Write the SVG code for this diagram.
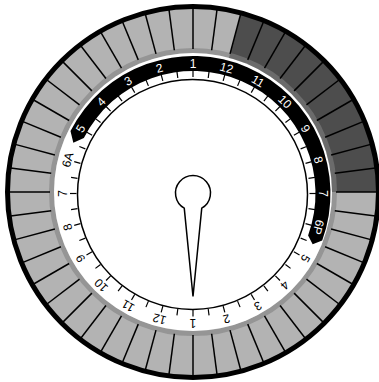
<svg xmlns="http://www.w3.org/2000/svg" xmlns:xlink="http://www.w3.org/1999/xlink" width="379" height="382" viewBox="0 0 379 382">
<style>
.div{stroke:#000;stroke-width:1.5}
.tick{stroke:#000;stroke-width:1.2}
.num{font-family:"Liberation Sans",Arial,sans-serif;font-size:12px;text-anchor:middle}
.w{fill:#fff}
.b{fill:#000}
</style>
<defs>
<line id="dv" class="div" x1="193" y1="8" x2="193" y2="49"/>
<line id="tk" class="tick" x1="193" y1="70.5" x2="193" y2="77"/>
</defs>
<rect width="379" height="382" fill="#fff"/>
<g id="segments">
<circle cx="193" cy="192" r="184" fill="#b3b3b3"/>
<path d="M193,192 L240.62,14.27 A184,184 0 0 1 377,192 Z" fill="#4d4d4d"/>
<circle cx="193" cy="192" r="141.5" fill="none" stroke="#808080" stroke-opacity="0.6" stroke-width="5"/>
<circle cx="193" cy="192" r="139" fill="#fff"/>
<g id="dividers">
<use xlink:href="#dv" transform="rotate(0 193 192)"/><use xlink:href="#dv" transform="rotate(7.5 193 192)"/><use xlink:href="#dv" transform="rotate(15 193 192)"/><use xlink:href="#dv" transform="rotate(22.5 193 192)"/><use xlink:href="#dv" transform="rotate(30 193 192)"/><use xlink:href="#dv" transform="rotate(37.5 193 192)"/><use xlink:href="#dv" transform="rotate(45 193 192)"/><use xlink:href="#dv" transform="rotate(52.5 193 192)"/><use xlink:href="#dv" transform="rotate(60 193 192)"/><use xlink:href="#dv" transform="rotate(67.5 193 192)"/><use xlink:href="#dv" transform="rotate(75 193 192)"/><use xlink:href="#dv" transform="rotate(82.5 193 192)"/><use xlink:href="#dv" transform="rotate(90 193 192)"/><use xlink:href="#dv" transform="rotate(97.5 193 192)"/><use xlink:href="#dv" transform="rotate(105 193 192)"/><use xlink:href="#dv" transform="rotate(112.5 193 192)"/><use xlink:href="#dv" transform="rotate(120 193 192)"/><use xlink:href="#dv" transform="rotate(127.5 193 192)"/><use xlink:href="#dv" transform="rotate(135 193 192)"/><use xlink:href="#dv" transform="rotate(142.5 193 192)"/><use xlink:href="#dv" transform="rotate(150 193 192)"/><use xlink:href="#dv" transform="rotate(157.5 193 192)"/><use xlink:href="#dv" transform="rotate(165 193 192)"/><use xlink:href="#dv" transform="rotate(172.5 193 192)"/><use xlink:href="#dv" transform="rotate(180 193 192)"/><use xlink:href="#dv" transform="rotate(187.5 193 192)"/><use xlink:href="#dv" transform="rotate(195 193 192)"/><use xlink:href="#dv" transform="rotate(202.5 193 192)"/><use xlink:href="#dv" transform="rotate(210 193 192)"/><use xlink:href="#dv" transform="rotate(217.5 193 192)"/><use xlink:href="#dv" transform="rotate(225 193 192)"/><use xlink:href="#dv" transform="rotate(232.5 193 192)"/><use xlink:href="#dv" transform="rotate(240 193 192)"/><use xlink:href="#dv" transform="rotate(247.5 193 192)"/><use xlink:href="#dv" transform="rotate(255 193 192)"/><use xlink:href="#dv" transform="rotate(262.5 193 192)"/><use xlink:href="#dv" transform="rotate(270 193 192)"/><use xlink:href="#dv" transform="rotate(277.5 193 192)"/><use xlink:href="#dv" transform="rotate(285 193 192)"/><use xlink:href="#dv" transform="rotate(292.5 193 192)"/><use xlink:href="#dv" transform="rotate(300 193 192)"/><use xlink:href="#dv" transform="rotate(307.5 193 192)"/><use xlink:href="#dv" transform="rotate(315 193 192)"/><use xlink:href="#dv" transform="rotate(322.5 193 192)"/><use xlink:href="#dv" transform="rotate(330 193 192)"/><use xlink:href="#dv" transform="rotate(337.5 193 192)"/><use xlink:href="#dv" transform="rotate(345 193 192)"/><use xlink:href="#dv" transform="rotate(352.5 193 192)"/>
</g>
<circle id="rim" cx="193" cy="192" r="185.5" fill="none" stroke="#000" stroke-width="5"/>
</g>
<g id="face">
<circle cx="192.5" cy="194.5" r="115" fill="#fff" stroke="#000" stroke-width="1.5"/>
</g>
<g id="night-band">
<path d="M70.49,131.08 A137.5,137.5 0 0 1 322.21,240.53 L312.67,244.29 L308.11,235.4 A122.5,122.5 0 0 0 83.85,137.89 L73.33,142.71 Z" fill="#000"/>
</g>
<g id="ticks">
<use xlink:href="#tk" transform="rotate(0 193 193.5)"/><use xlink:href="#tk" transform="rotate(7.5 193 193.5)"/><use xlink:href="#tk" transform="rotate(15 193 193.5)"/><use xlink:href="#tk" transform="rotate(22.5 193 193.5)"/><use xlink:href="#tk" transform="rotate(30 193 193.5)"/><use xlink:href="#tk" transform="rotate(37.5 193 193.5)"/><use xlink:href="#tk" transform="rotate(45 193 193.5)"/><use xlink:href="#tk" transform="rotate(52.5 193 193.5)"/><use xlink:href="#tk" transform="rotate(60 193 193.5)"/><use xlink:href="#tk" transform="rotate(67.5 193 193.5)"/><use xlink:href="#tk" transform="rotate(75 193 193.5)"/><use xlink:href="#tk" transform="rotate(82.5 193 193.5)"/><use xlink:href="#tk" transform="rotate(90 193 193.5)"/><use xlink:href="#tk" transform="rotate(97.5 193 193.5)"/><use xlink:href="#tk" transform="rotate(105 193 193.5)"/><use xlink:href="#tk" transform="rotate(112.5 193 193.5)"/><use xlink:href="#tk" transform="rotate(120 193 193.5)"/><use xlink:href="#tk" transform="rotate(127.5 193 193.5)"/><use xlink:href="#tk" transform="rotate(135 193 193.5)"/><use xlink:href="#tk" transform="rotate(142.5 193 193.5)"/><use xlink:href="#tk" transform="rotate(150 193 193.5)"/><use xlink:href="#tk" transform="rotate(157.5 193 193.5)"/><use xlink:href="#tk" transform="rotate(165 193 193.5)"/><use xlink:href="#tk" transform="rotate(172.5 193 193.5)"/><use xlink:href="#tk" transform="rotate(180 193 193.5)"/><use xlink:href="#tk" transform="rotate(187.5 193 193.5)"/><use xlink:href="#tk" transform="rotate(195 193 193.5)"/><use xlink:href="#tk" transform="rotate(202.5 193 193.5)"/><use xlink:href="#tk" transform="rotate(210 193 193.5)"/><use xlink:href="#tk" transform="rotate(217.5 193 193.5)"/><use xlink:href="#tk" transform="rotate(225 193 193.5)"/><use xlink:href="#tk" transform="rotate(232.5 193 193.5)"/><use xlink:href="#tk" transform="rotate(240 193 193.5)"/><use xlink:href="#tk" transform="rotate(247.5 193 193.5)"/><use xlink:href="#tk" transform="rotate(255 193 193.5)"/><use xlink:href="#tk" transform="rotate(262.5 193 193.5)"/><use xlink:href="#tk" transform="rotate(270 193 193.5)"/><use xlink:href="#tk" transform="rotate(277.5 193 193.5)"/><use xlink:href="#tk" transform="rotate(285 193 193.5)"/><use xlink:href="#tk" transform="rotate(292.5 193 193.5)"/><use xlink:href="#tk" transform="rotate(300 193 193.5)"/><use xlink:href="#tk" transform="rotate(307.5 193 193.5)"/><use xlink:href="#tk" transform="rotate(315 193 193.5)"/><use xlink:href="#tk" transform="rotate(322.5 193 193.5)"/><use xlink:href="#tk" transform="rotate(330 193 193.5)"/><use xlink:href="#tk" transform="rotate(337.5 193 193.5)"/><use xlink:href="#tk" transform="rotate(345 193 193.5)"/><use xlink:href="#tk" transform="rotate(352.5 193 193.5)"/>
</g>
<g id="numbers">
<text class="num w" x="193" y="67.8" transform="rotate(0 193 193.5)">1</text>
<text class="num w" x="193" y="67.8" transform="rotate(15 193 193.5)">12</text>
<text class="num w" x="193" y="67.8" transform="rotate(30 193 193.5)">11</text>
<text class="num w" x="193" y="67.8" transform="rotate(45 193 193.5)">10</text>
<text class="num w" x="193" y="67.8" transform="rotate(60 193 193.5)">9</text>
<text class="num w" x="193" y="67.8" transform="rotate(75 193 193.5)">8</text>
<text class="num w" x="193" y="67.8" transform="rotate(90 193 193.5)">7</text>
<text class="num w" x="193" y="67.8" transform="rotate(105 193 193.5)">6P</text>
<text class="num b" x="193" y="67.8" transform="rotate(120 193 193.5)">5</text>
<text class="num b" x="193" y="67.8" transform="rotate(135 193 193.5)">4</text>
<text class="num b" x="193" y="67.8" transform="rotate(150 193 193.5)">3</text>
<text class="num b" x="193" y="67.8" transform="rotate(165 193 193.5)">2</text>
<text class="num b" x="193" y="67.8" transform="rotate(180 193 193.5)">1</text>
<text class="num b" x="193" y="67.8" transform="rotate(195 193 193.5)">12</text>
<text class="num b" x="193" y="67.8" transform="rotate(210 193 193.5)">11</text>
<text class="num b" x="193" y="67.8" transform="rotate(225 193 193.5)">10</text>
<text class="num b" x="193" y="67.8" transform="rotate(240 193 193.5)">9</text>
<text class="num b" x="193" y="67.8" transform="rotate(255 193 193.5)">8</text>
<text class="num b" x="193" y="67.8" transform="rotate(270 193 193.5)">7</text>
<text class="num b" x="193" y="67.8" transform="rotate(285 193 193.5)">6A</text>
<text class="num w" x="193" y="67.8" transform="rotate(300 193 193.5)">5</text>
<text class="num w" x="193" y="67.8" transform="rotate(315 193 193.5)">4</text>
<text class="num w" x="193" y="67.8" transform="rotate(330 193 193.5)">3</text>
<text class="num w" x="193" y="67.8" transform="rotate(345 193 193.5)">2</text>
</g>
<g id="pointer">
<path d="M184.25,208.16 L193,296.5 L201.75,208.16 A17.5,17.5 0 1 0 184.25,208.16 Z" fill="#fff" stroke="#000" stroke-width="1.5" stroke-linejoin="miter"/>
</g>
</svg>
